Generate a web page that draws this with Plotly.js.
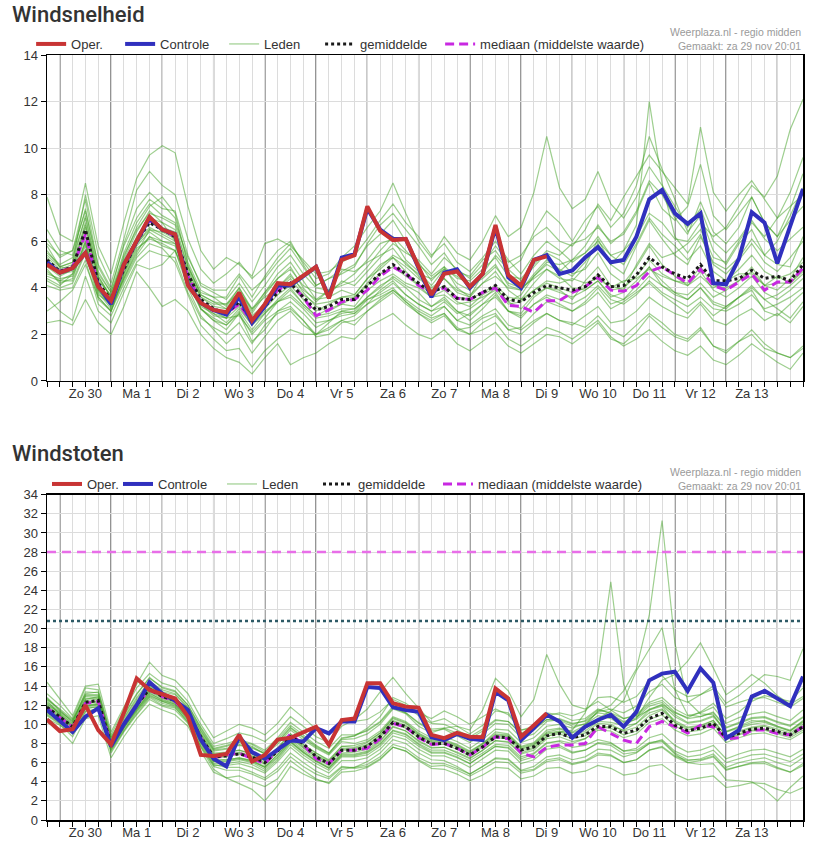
<!DOCTYPE html>
<html><head><meta charset="utf-8">
<script src="https://cdn.plot.ly/plotly-3.0.1.min.js"></script>
<style>html,body{margin:0;padding:0;background:#fff}#chart{width:815px;height:844px}</style>
</head><body><div id="chart"></div>
<script>
const dayLabels = ['Zo 30','Ma 1','Di 2','Wo 3','Do 4','Vr 5','Za 6','Zo 7','Ma 8','Di 9','Wo 10','Do 11','Vr 12','Za 13'];

// ---- Windsnelheid (m/s) ----
const speedOper = [5.0,4.65,4.85,5.5,4.05,3.45,5.0,6.0,7.05,6.5, 6.3,4.1,3.35,3.05,2.95,3.8,2.6,3.3,4.2,4.15, 4.5,4.9,3.55,5.2,5.4,7.5,6.45,6.05,6.1,4.9, 3.7,4.6,4.7,4.05,4.6,6.7,4.55,4.1,5.2,5.35];
const speedControle = [5.1,4.65,4.85,5.5,4.1,3.3,5.0,6.0,7.0,6.5, 6.3,4.15,3.35,3.05,2.85,3.6,2.5,3.2,4.1,4.1, 4.5,4.9,3.6,5.3,5.45,7.4,6.5,6.1,6.1,4.8, 3.6,4.65,4.8,4.0,4.6,6.6,4.45,4.0,5.2,5.4, 4.6,4.75,5.3,5.75,5.1,5.2,6.2,7.8,8.2,7.2, 6.75,7.2,4.2,4.15,5.25,7.25,6.8,5.05,6.6,8.25];
const speedMean = [5.2,4.7,4.9,6.5,4.2,3.5,4.8,6.0,6.8,6.5, 6.2,4.6,3.5,3.1,2.9,3.4,2.6,3.2,3.8,4.2, 3.6,3.05,3.2,3.5,3.5,4.1,4.6,5.0,4.6,4.2, 3.8,4.05,3.55,3.5,3.8,4.1,3.5,3.4,3.8,4.1, 4.0,3.9,4.05,4.55,4.05,4.1,4.55,5.3,4.9,4.6, 4.4,5.0,4.3,4.3,4.4,4.75,4.4,4.5,4.3,5.0];
const speedMedian = [5.1,4.7,4.9,6.3,4.1,3.4,4.9,6.0,6.9,6.5, 6.2,4.5,3.4,3.0,2.9,3.3,2.5,3.2,3.9,4.2, 3.6,2.8,3.05,3.4,3.5,3.9,4.5,4.9,4.6,4.1, 3.8,4.0,3.55,3.5,3.8,4.0,3.25,3.2,2.95,3.45, 3.45,3.8,4.05,4.45,3.9,3.85,4.1,4.7,4.9,4.55, 4.2,4.8,4.1,3.9,4.25,4.6,3.9,4.25,4.25,4.85];
const speedMembers = [
[6.1,5.3,5.6,7.8,4.9,3.9,5.9,7.4,8.1,7.6, 7.0,5.1,3.9,3.6,3.2,4.0,3.1,3.8,4.6,5.1, 4.3,3.5,3.9,4.2,4.6,5.2,5.9,6.1,5.2,4.7, 4.1,4.8,4.2,3.9,4.5,5.0,4.1,3.9,4.6,5.2, 4.8,4.5,5.1,5.9,5.0,4.6,5.8,6.9,6.1,5.4, 5.0,6.2,5.1,4.8,5.3,6.1,5.4,5.0,4.9,6.2],
[4.1,3.9,4.0,5.2,3.3,2.8,4.0,5.1,5.6,5.4, 5.3,3.8,2.7,2.3,2.0,2.5,1.6,2.4,2.9,3.1, 2.6,2.0,2.3,2.6,2.4,3.0,3.4,3.8,3.3,2.9, 2.6,2.9,2.2,2.3,2.7,2.9,2.2,2.0,2.5,2.9, 2.6,2.4,2.8,3.2,2.5,2.6,3.0,3.6,3.2,2.9, 2.7,3.3,2.6,2.4,2.8,3.1,2.6,2.9,2.5,3.2],
[5.5,5.0,5.3,7.0,4.5,3.6,5.3,6.6,7.5,7.9, 7.2,5.0,3.7,3.4,3.1,3.9,2.9,3.7,4.4,4.9, 4.0,3.4,3.9,4.7,5.0,5.8,6.3,6.9,6.0,5.1, 4.3,4.9,4.0,3.6,4.6,5.4,4.8,5.2,6.4,7.3, 6.8,6.0,6.9,7.5,6.6,7.2,8.4,10.5,9.1,7.8, 6.4,7.1,5.6,5.0,5.9,6.5,5.4,6.0,7.1,8.3],
[3.6,3.0,2.6,4.5,3.0,2.5,3.8,5.0,4.8,5.0, 5.6,4.2,3.1,2.6,2.4,2.9,2.0,2.6,3.0,3.4, 2.9,2.3,2.6,2.9,3.0,3.6,4.0,4.5,4.1,3.8, 3.2,3.6,3.0,2.6,3.1,3.7,3.0,2.9,3.6,4.0, 3.9,3.5,4.3,4.9,4.1,3.9,5.0,5.9,5.3,5.5, 5.9,6.5,5.3,5.1,6.0,6.8,6.2,7.0,8.1,9.6],
[5.8,4.9,5.1,8.0,5.4,4.2,6.1,8.2,9.0,8.4, 8.0,6.1,4.8,4.2,4.6,5.1,4.4,4.9,5.6,6.0, 5.0,4.1,4.4,4.6,4.9,5.9,6.7,7.2,6.5,5.8, 5.0,5.5,4.7,4.5,5.2,5.6,4.8,4.3,4.9,5.5, 5.2,4.6,4.8,5.5,4.6,4.2,4.9,5.8,5.0,4.5, 4.1,4.7,3.9,3.6,4.0,4.5,3.8,3.5,3.9,4.4],
[4.6,4.4,4.5,5.8,3.8,3.1,4.3,5.4,6.2,5.8, 5.6,4.0,2.8,2.2,1.6,2.1,1.2,1.9,2.6,3.0, 2.4,2.0,2.2,2.6,2.8,3.3,3.9,4.3,3.7,3.3, 3.0,3.4,2.9,3.1,3.5,4.0,3.4,3.7,4.5,5.0, 4.7,5.2,5.8,6.7,5.9,6.4,7.3,8.6,8.0,7.0, 6.3,7.7,6.4,5.9,6.6,7.9,6.8,6.2,7.4,8.9],
[7.9,6.3,6.0,8.5,5.8,4.6,6.8,8.7,9.7,10.1, 9.8,7.5,5.6,4.8,5.3,5.0,4.5,5.9,6.1,5.8, 5.2,4.6,4.7,5.1,5.4,6.1,6.9,7.6,6.8,6.2, 5.4,5.9,5.1,4.7,5.3,6.0,5.2,4.6,5.4,6.0, 5.6,5.1,5.5,6.2,5.4,5.0,5.9,7.0,6.3,5.8, 5.2,5.8,4.7,4.3,4.8,5.4,4.7,4.4,4.6,5.1],
[2.5,2.6,2.4,3.5,2.5,2.0,3.2,4.7,4.0,3.2, 3.5,3.0,2.0,1.4,1.0,0.8,0.3,1.0,1.6,0.7, 1.0,1.2,1.6,1.9,1.8,2.3,2.6,2.9,2.4,2.0, 1.8,2.2,1.6,1.3,1.7,2.1,1.5,1.2,1.6,2.0, 1.9,1.6,2.0,2.5,1.8,1.6,2.1,2.8,2.3,1.9, 1.7,2.2,1.5,1.3,1.7,2.0,1.4,1.2,1.0,1.5],
[5.0,4.6,4.7,6.2,4.0,3.4,5.0,6.2,7.0,6.8, 6.0,4.5,3.3,3.0,2.7,3.6,2.6,3.4,4.0,4.6, 3.8,3.2,3.0,3.3,3.6,4.2,4.9,5.4,5.1,4.5, 3.9,4.4,3.8,3.6,4.2,4.7,3.9,3.5,4.2,4.8, 4.4,4.3,4.9,6.1,5.0,5.6,6.7,12.0,8.5,6.2, 5.5,6.3,5.0,4.6,5.2,5.9,5.1,4.7,5.3,6.0],
[4.8,4.2,4.4,6.0,3.6,3.0,4.6,5.8,6.4,6.0, 5.8,4.3,3.2,2.9,2.5,3.1,2.4,2.9,3.5,4.0, 3.3,2.8,3.1,3.3,3.2,3.9,4.3,4.6,4.2,4.0, 3.6,3.7,3.3,3.4,3.6,3.9,3.3,3.4,3.9,4.3, 4.2,4.4,4.2,4.4,4.0,4.3,4.4,4.8,4.5,4.3, 4.1,4.5,4.0,4.3,4.6,4.6,4.1,4.5,4.2,4.7],
[5.3,4.8,5.0,6.8,4.3,3.7,4.9,6.1,7.0,6.6, 6.4,4.7,3.6,3.3,3.3,3.8,3.1,3.6,4.0,4.5, 3.9,3.5,3.6,3.9,3.7,4.4,4.8,5.3,4.9,4.4, 4.0,4.4,3.9,3.7,4.2,4.5,4.0,3.9,4.5,5.1, 5.0,5.2,5.5,6.0,5.4,5.6,6.2,7.2,6.8,6.1, 6.0,6.8,6.2,6.6,7.5,8.4,7.9,8.8,10.8,12.1],
[4.3,4.0,4.2,5.5,3.5,3.0,4.5,5.7,6.1,5.9, 5.6,4.4,3.3,2.8,2.7,2.8,2.1,2.7,3.4,3.6, 3.1,2.5,2.6,2.8,2.9,3.5,3.8,4.2,3.7,3.3, 3.0,3.2,2.6,2.4,2.8,3.1,2.4,2.2,2.6,2.9, 2.6,2.5,2.3,2.8,2.2,1.9,2.4,2.9,2.5,2.0, 1.8,2.3,1.5,1.2,1.7,2.2,1.6,1.2,1.0,1.4],
[5.9,5.4,5.6,7.3,5.0,4.0,5.8,7.0,7.8,7.4, 7.3,5.4,4.1,3.8,3.5,4.2,3.4,4.1,4.9,5.4, 4.6,4.0,3.9,4.1,4.3,4.9,5.6,6.2,5.6,5.0, 4.5,4.9,4.4,4.3,4.8,5.3,4.5,4.4,5.0,5.6, 5.4,5.9,6.1,6.6,6.0,6.3,7.2,8.5,7.4,6.9, 7.5,9.3,7.1,6.5,7.2,7.9,6.8,6.2,6.9,7.5],
[4.4,4.1,4.6,5.9,3.9,3.2,4.4,5.5,6.5,6.4, 6.3,4.6,3.1,2.6,2.2,2.9,1.7,2.2,3.0,3.2, 2.6,1.9,2.0,2.5,2.6,3.0,3.5,3.9,3.5,3.1, 2.8,3.2,2.6,2.9,3.3,3.8,3.0,2.7,3.3,3.6, 3.3,3.0,3.3,3.8,3.1,3.4,3.8,4.2,3.7,3.3, 2.9,3.4,2.8,3.2,3.6,3.9,3.0,2.8,3.3,3.8],
[6.5,5.6,5.4,7.4,4.7,3.8,5.5,6.8,7.6,7.1, 6.8,5.3,4.2,3.9,3.9,4.6,3.9,4.4,5.1,5.7, 4.9,4.1,4.4,4.8,4.7,5.1,5.4,5.7,5.0,4.6, 4.4,4.8,4.5,4.1,4.4,4.9,4.2,4.0,4.4,4.8, 4.5,4.0,3.9,4.3,3.6,3.8,4.3,4.9,4.1,3.8, 3.7,4.2,3.6,3.9,4.3,4.9,4.1,3.9,4.4,5.3],
[3.0,3.4,3.9,5.0,3.6,3.0,4.2,5.3,5.9,5.7, 5.1,3.7,2.4,1.8,1.3,1.4,0.6,1.3,1.8,2.2, 2.0,2.0,2.5,3.0,3.1,3.5,3.7,4.0,3.4,2.9, 2.5,2.8,2.2,2.0,2.5,2.8,2.2,2.3,2.9,3.4, 3.2,3.0,3.4,4.0,3.3,3.5,4.1,4.9,4.3,3.8, 3.5,4.0,3.3,3.1,3.6,4.1,3.5,3.1,2.7,3.4],
[5.6,4.9,4.8,6.7,4.4,3.6,5.4,6.5,7.2,7.0, 6.7,4.9,3.7,3.4,3.3,4.0,3.0,3.8,4.4,4.8, 4.1,3.8,3.7,4.3,4.1,4.7,5.3,5.9,5.5,5.2, 4.6,5.3,4.8,4.4,5.0,5.8,5.1,5.4,6.2,6.6, 6.0,5.8,6.5,7.6,6.9,7.9,8.8,9.7,9.0,8.3, 7.6,10.9,8.1,7.3,8.0,8.6,7.8,7.0,7.5,8.0],
[4.9,4.5,4.8,6.3,4.2,3.3,4.7,6.0,6.9,6.4, 6.1,4.6,3.4,3.1,2.9,3.3,2.5,3.1,3.7,4.1, 3.5,3.0,3.3,3.6,3.7,4.4,5.0,5.3,4.7,4.1, 3.6,3.9,3.4,3.2,3.7,4.0,3.4,3.1,3.7,4.0, 3.8,3.6,3.9,4.3,3.7,3.5,3.9,4.5,4.1,3.7, 3.5,4.0,3.4,3.2,3.6,4.0,3.5,3.7,4.1,4.6],
[4.7,4.3,4.3,5.6,3.7,3.3,4.6,5.9,6.5,6.2, 5.9,4.4,3.3,2.9,2.7,3.2,2.4,3.0,3.4,3.7, 3.2,2.7,2.8,3.0,2.9,3.3,3.6,3.9,3.4,3.0, 2.7,2.9,2.3,2.0,2.2,2.5,1.8,1.5,1.9,2.3, 2.1,1.8,2.2,2.6,1.9,1.5,1.8,2.2,1.7,1.3, 1.1,1.5,0.9,0.7,1.1,1.6,1.2,0.8,0.5,1.2],
[5.4,4.9,5.1,7.1,4.6,3.8,5.2,6.4,7.3,6.8, 6.5,4.9,3.8,3.6,3.6,4.5,3.6,4.5,5.3,5.9, 5.1,4.4,4.6,5.3,5.8,6.6,7.3,8.5,7.2,6.0, 5.3,6.2,5.5,5.2,6.0,7.1,6.2,6.6,8.1,10.5, 8.3,7.4,7.8,9.0,7.6,7.0,7.9,9.2,8.4,7.5, 6.6,7.4,6.0,5.5,6.1,6.9,6.1,5.6,6.1,6.6],
[4.5,4.3,4.6,6.0,3.9,3.2,4.4,5.6,6.2,6.0, 5.9,4.2,3.1,2.7,2.4,3.0,2.2,2.9,3.4,3.9, 3.3,2.8,2.9,3.1,3.1,3.6,4.1,4.4,4.0,3.5, 3.2,3.5,3.0,2.8,3.3,3.6,3.0,2.8,3.3,3.7, 3.5,3.3,3.6,4.1,3.5,3.3,3.7,4.3,3.8,3.5, 3.2,3.6,3.1,3.0,3.3,3.7,3.1,3.3,3.6,4.0],
[5.2,4.7,4.9,6.6,4.5,3.6,4.8,5.9,6.6,6.3, 6.0,4.8,3.6,3.2,3.1,3.6,2.8,3.3,3.9,4.4, 3.7,3.3,3.4,3.6,3.6,4.1,4.6,4.9,4.5,4.1, 3.8,4.1,3.6,3.5,3.8,4.1,3.6,3.5,3.9,4.2, 4.0,3.8,4.0,4.6,3.9,4.0,4.5,5.2,4.6,4.3, 4.2,4.9,4.1,4.0,4.3,4.7,4.1,4.2,4.2,4.8]
];

// ---- Windstoten (m/s) ----
const gustOper = [10.5,9.3,9.5,12.0,9.4,7.9,11.2,14.8,13.6,13.2, 12.7,10.8,6.8,6.7,6.9,8.9,6.1,6.8,8.4,8.6, 9.2,9.75,7.85,10.45,10.6,14.3,14.3,12.2,11.85,11.75, 8.9,8.55,9.1,8.7,8.65,13.75,12.7,8.7,9.9,11.15];
const gustControle = [11.5,10.4,9.2,10.8,11.7,7.7,10.0,12.0,14.4,13.2, 12.5,11.5,8.4,6.4,5.6,8.7,7.1,6.4,7.4,8.3, 8.2,9.6,9.05,10.3,10.3,13.9,13.8,11.8,11.5,11.3, 8.65,8.35,9.0,8.5,8.35,13.4,12.5,8.35,9.6,11.0, 10.3,8.6,9.75,10.45,11.0,9.75,11.3,14.6,15.3,15.5, 13.5,15.85,14.35,8.55,9.4,12.9,13.5,12.7,11.9,15.0];
const gustMean = [11.8,10.8,9.75,12.3,12.5,7.85,10.0,12.0,13.7,12.9, 12.5,11.1,8.7,6.6,6.7,6.9,6.6,6.0,7.2,8.7, 8.0,6.6,5.9,7.3,7.3,7.7,8.7,10.2,9.75,8.7, 7.95,8.0,7.5,6.8,7.65,8.7,8.6,7.3,7.65,8.8, 9.05,8.6,8.9,9.8,9.75,9.05,9.4,10.6,11.15,9.9, 9.35,9.6,10.1,8.6,9.05,9.5,9.6,9.25,8.9,9.75];
const gustMedian = [11.7,10.7,9.7,12.2,12.4,7.9,10.1,12.1,13.6,12.9, 12.4,11.0,8.6,6.5,6.8,7.0,6.4,5.9,7.3,9.0, 7.9,6.4,5.9,7.3,7.3,7.5,8.5,10.1,9.7,8.6, 7.9,8.0,7.5,6.8,7.6,8.7,8.5,7.0,6.6,7.6, 7.85,7.85,8.0,9.75,9.05,8.35,8.0,9.75,10.3,9.75, 9.1,9.9,9.75,8.5,8.6,9.4,9.4,9.05,8.9,9.75];
const gustThresholds = [28, 20.8];
const gustMembers = [
[12.8,11.5,10.2,13.4,13.3,8.6,11.0,13.2,14.8,13.9, 13.5,12.0,9.6,7.5,7.8,8.2,7.9,7.1,8.4,9.9, 8.9,7.8,7.0,8.6,8.8,9.4,10.3,11.9,11.2,10.1, 9.3,9.5,8.8,8.1,9.0,10.1,10.0,8.6,9.0,10.3, 10.5,10.0,10.4,11.5,11.2,10.6,11.0,12.3,12.8,11.6, 10.9,11.2,11.8,10.1,10.7,11.1,11.3,10.8,10.4,11.5],
[10.2,9.4,8.0,10.6,10.9,6.5,8.7,10.6,12.1,11.5, 11.0,9.8,7.2,5.0,4.4,4.6,4.0,3.5,4.3,6.2, 5.2,4.3,3.8,5.0,5.1,5.5,6.3,7.6,7.2,6.3, 5.6,5.7,5.2,4.6,5.3,6.1,6.0,4.9,5.2,6.1, 6.3,5.8,6.1,6.8,6.7,6.0,6.3,7.3,7.7,6.7, 6.2,6.4,6.9,5.5,6.0,6.3,6.5,6.0,5.6,6.5],
[12.1,11.2,10.1,12.9,12.8,8.1,10.4,12.4,14.1,13.2, 12.8,11.5,9.0,7.0,7.1,7.3,6.9,6.2,7.6,9.0, 7.9,7.0,6.2,7.7,7.6,8.1,9.1,10.7,10.2,9.1, 8.4,8.4,7.9,7.2,8.0,9.2,9.0,7.7,8.1,9.4, 9.6,9.2,9.9,11.4,12.0,13.5,15.8,21.4,31.3,18.5, 12.4,11.1,11.0,9.2,9.8,10.4,10.3,9.8,9.3,10.4],
[11.4,10.4,9.4,11.9,12.1,7.6,9.7,11.6,13.3,12.5, 12.1,10.7,8.3,6.1,6.2,6.4,6.1,5.5,6.8,8.2, 7.1,6.2,5.5,6.9,6.9,7.2,8.2,9.7,9.3,8.2, 7.5,7.6,7.0,6.4,7.3,8.3,8.2,7.0,7.5,8.7, 9.2,9.4,11.2,15.3,24.9,14.2,10.8,11.5,11.9,10.2, 9.4,9.7,10.2,8.4,8.9,9.3,9.4,9.0,8.6,9.4],
[13.2,12.0,10.6,13.8,13.6,8.9,11.5,13.8,15.3,14.3, 13.9,12.4,10.0,8.0,8.5,9.1,8.8,8.2,9.3,10.8, 9.8,8.7,8.1,9.8,10.5,11.6,13.4,14.9,13.2,11.7, 10.2,10.6,9.8,9.0,9.9,11.4,11.2,9.4,9.8,11.2, 11.0,10.4,10.6,11.6,11.1,10.3,10.7,11.9,12.3,11.0, 10.2,10.4,10.9,9.3,9.7,10.2,10.4,9.8,9.4,10.3],
[11.0,10.1,9.1,11.7,11.8,7.2,9.3,11.3,12.9,12.2, 11.8,10.2,7.6,5.3,4.4,3.8,3.2,2.0,3.6,5.6, 4.8,4.2,3.9,5.3,5.5,6.1,7.0,8.4,8.0,7.0, 6.3,6.2,5.6,4.8,5.6,6.4,6.3,5.1,5.3,6.3, 6.5,5.9,6.2,7.0,6.8,6.0,6.3,7.3,7.6,6.6, 6.0,6.2,6.6,5.2,5.6,6.0,6.1,5.5,5.0,5.9],
[12.5,11.0,9.8,12.6,12.9,8.3,10.6,12.6,14.3,13.4, 13.1,11.7,9.3,7.3,7.5,7.8,7.6,6.9,7.9,9.4, 8.4,7.5,6.8,8.2,8.0,8.4,9.3,10.8,10.3,9.3, 8.6,8.7,8.2,7.5,8.4,9.5,9.4,8.1,8.6,9.8, 10.0,9.6,10.1,11.3,11.6,11.2,11.9,13.4,14.2,12.8, 12.3,13.1,14.0,12.2,13.0,14.1,15.2,15.0,14.6,17.9],
[11.2,10.6,9.5,11.8,12.0,7.5,9.6,11.4,13.0,12.4, 12.0,10.5,8.0,5.8,5.5,5.5,5.0,4.4,5.4,7.0, 6.0,5.1,4.5,5.6,5.4,5.6,6.4,7.6,7.2,6.2, 5.4,5.3,4.8,4.1,4.7,5.5,5.4,4.3,4.6,5.4, 5.5,4.9,5.1,5.7,5.4,4.7,4.9,5.6,5.8,4.8, 4.2,4.4,4.6,3.4,3.6,3.9,3.8,3.2,2.8,3.4],
[12.3,11.3,10.3,13.0,13.0,8.2,10.3,12.2,14.0,13.1, 12.7,11.4,9.1,7.2,7.4,7.9,7.5,7.0,8.1,9.6, 8.6,7.6,6.9,8.4,8.5,9.0,10.0,11.6,11.1,9.8, 9.1,9.6,9.8,9.4,11.5,14.8,13.5,10.8,12.6,17.3, 14.2,12.0,11.6,12.4,11.5,10.6,10.9,12.1,12.5,11.3, 10.6,10.8,11.3,9.7,10.2,10.7,10.8,10.3,9.9,10.8],
[11.7,10.8,9.7,12.2,12.5,7.9,10.0,12.0,13.6,12.9, 12.4,11.0,8.6,6.5,6.6,6.9,6.5,5.8,7.1,8.6, 7.5,6.6,5.9,7.3,7.3,7.6,8.6,10.1,9.6,8.6, 7.9,7.9,7.4,6.7,7.6,8.6,8.5,7.2,7.6,8.8, 9.0,8.5,8.8,9.7,9.6,8.9,9.3,10.5,11.0,9.8, 9.2,9.4,10.0,8.5,9.0,9.4,9.5,9.1,8.8,9.6],
[11.9,10.9,9.9,12.5,12.6,7.8,10.1,12.1,13.8,13.0, 12.6,11.2,8.8,6.7,6.8,7.1,6.7,6.0,7.3,8.8, 7.7,6.8,6.1,7.5,7.5,7.9,8.9,10.4,9.9,8.9, 8.2,8.2,7.7,7.0,7.9,8.9,8.8,7.5,7.9,9.1, 9.3,8.9,9.3,10.3,10.2,9.9,10.6,12.8,14.6,15.2, 16.6,18.5,15.9,13.1,14.0,15.2,14.3,13.0,12.1,12.9],
[10.6,9.9,9.0,11.4,11.6,7.3,9.4,11.1,12.8,12.0, 11.7,10.3,7.8,5.7,5.7,5.9,5.5,4.9,6.1,7.6, 6.5,5.6,4.9,6.2,6.2,6.5,7.4,8.8,8.4,7.4, 6.7,6.7,6.2,5.5,6.4,7.3,7.2,5.9,6.3,7.4, 7.6,7.0,7.3,8.1,8.0,7.2,7.5,8.6,9.0,7.8, 7.1,7.3,7.8,6.4,6.9,7.3,7.4,7.0,6.6,7.4],
[12.0,11.0,9.6,12.4,12.3,7.7,9.8,11.9,13.5,12.8, 12.3,10.9,8.5,6.4,6.3,6.5,6.2,5.5,6.6,8.2, 7.1,6.2,5.4,6.7,6.7,7.0,7.9,9.3,8.9,7.9, 7.1,7.1,6.6,5.9,6.8,7.7,7.5,6.2,6.6,7.7, 7.8,7.1,7.3,8.0,7.8,6.9,7.1,8.0,8.2,6.9, 6.0,5.8,5.9,4.2,4.1,4.0,3.2,2.0,3.4,4.6],
[14.4,12.6,10.9,14.0,14.2,9.2,11.8,14.2,16.5,15.1, 14.6,13.2,10.7,8.6,9.3,10.0,9.6,8.9,10.1,11.8, 10.7,9.5,8.9,10.5,10.3,10.5,11.3,12.6,12.0,10.9, 10.1,10.0,9.4,8.7,9.5,10.5,10.3,9.0,9.4,10.5, 10.6,10.1,10.3,11.2,11.0,10.2,10.5,11.6,12.0,10.8, 10.1,10.3,10.8,9.2,9.6,10.0,10.2,9.7,9.3,10.2],
[11.5,10.5,9.3,12.0,12.2,7.6,9.9,11.8,13.4,12.7, 12.2,10.8,8.4,6.2,6.3,6.5,6.2,5.6,6.8,8.4, 7.3,6.4,5.7,7.0,7.1,7.4,8.3,9.8,9.3,8.3, 7.6,7.6,7.1,6.5,7.3,8.3,8.1,6.9,7.3,8.5, 8.7,8.2,8.5,9.4,9.3,8.6,9.0,10.2,10.6,9.4, 8.8,9.0,9.6,8.1,8.6,9.0,9.1,8.7,8.4,9.2],
[11.1,10.2,9.2,11.6,11.9,7.4,9.6,11.5,13.1,12.4, 11.9,10.5,8.1,5.9,5.9,6.1,5.8,5.1,6.3,7.9, 6.8,5.9,5.2,6.6,6.6,6.8,7.7,9.1,8.7,7.7, 7.0,7.0,6.5,5.9,6.8,7.7,7.6,6.4,6.9,8.0, 8.3,8.0,8.5,9.6,9.8,9.4,10.1,11.5,12.1,11.2, 10.7,11.3,12.2,10.6,11.3,12.4,13.0,12.7,12.4,13.8],
[12.7,11.4,10.4,13.1,13.1,8.5,10.7,12.8,14.5,13.6, 13.2,11.8,9.4,7.4,7.7,8.1,7.7,6.9,8.2,9.7, 8.7,7.7,7.0,8.5,8.8,9.6,10.8,12.8,12.2,11.2, 10.6,11.4,10.8,10.0,10.8,11.6,11.0,9.4,9.6,10.5, 10.4,9.8,10.0,10.9,10.6,9.8,10.1,11.2,11.6,10.4, 9.7,9.9,10.4,8.8,9.2,9.6,9.8,9.3,8.9,9.8],
[11.6,10.7,9.8,12.2,12.4,7.9,10.1,12.1,13.7,12.8, 12.5,11.1,8.7,6.6,6.7,7.0,6.6,5.9,7.2,8.7, 7.6,6.7,6.0,7.4,7.4,7.8,8.8,10.3,9.8,8.8, 8.1,8.1,7.6,6.9,7.7,8.8,8.7,7.4,7.8,9.0, 9.2,8.8,9.1,10.1,10.0,9.3,9.7,10.9,11.5,10.2, 9.6,9.8,10.4,8.8,9.3,9.7,9.9,9.5,9.1,10.0],
[10.9,10.0,8.7,11.3,11.6,7.0,9.2,11.0,12.6,11.9, 11.5,10.1,7.7,5.6,5.2,5.2,4.8,4.2,5.1,6.6, 5.6,4.8,4.3,5.5,5.5,5.8,6.6,7.9,7.5,6.5, 5.9,5.9,5.4,4.8,5.6,6.5,6.4,5.2,5.6,6.6, 6.8,6.3,6.6,7.4,7.3,6.6,7.0,8.0,8.4,7.2, 6.6,6.8,7.3,6.0,6.4,6.8,6.9,6.5,6.1,6.9],
[12.2,11.1,10.0,12.7,12.7,8.0,10.2,12.3,13.9,13.0, 12.6,11.3,8.9,6.9,7.0,7.3,6.9,6.2,7.5,9.0, 7.9,7.0,6.3,7.7,7.8,8.2,9.1,10.6,10.1,9.0, 8.3,8.3,7.8,7.1,8.0,9.0,8.9,7.6,8.0,9.2, 9.5,9.1,9.6,10.6,11.4,12.5,15.6,17.8,20.1,13.6, 11.0,10.8,11.2,9.6,10.1,10.6,10.7,10.2,9.8,10.7],
[11.3,10.3,9.4,11.9,12.1,7.6,9.8,11.6,13.2,12.6, 12.1,10.7,8.2,6.1,6.1,6.3,6.0,5.3,6.5,8.1, 7.0,6.1,5.4,6.8,6.8,7.1,8.0,9.4,9.0,8.0, 7.3,7.3,6.8,6.2,7.0,7.9,7.8,6.6,7.0,8.1, 8.2,7.6,7.8,8.4,8.1,7.2,7.3,8.1,8.3,7.0, 6.3,6.3,6.7,5.3,5.6,5.9,5.9,5.4,5.0,5.7],
[12.6,11.6,10.5,13.2,13.4,8.7,10.9,13.1,14.9,13.8, 13.4,12.0,9.7,7.7,8.0,8.4,8.0,7.3,8.6,10.2, 9.2,8.2,7.5,8.9,8.9,9.3,10.2,11.7,11.2,10.2, 9.5,9.6,9.1,8.5,9.3,10.4,10.3,9.1,9.6,10.9, 11.2,10.9,11.4,12.8,12.9,12.3,12.9,14.5,15.1,13.6, 12.9,13.1,13.7,11.8,12.3,12.7,12.8,12.3,11.8,12.7]
];

// ---- time axis (6-hourly, from za 29 nov 18:00) ----
function fmt(d){
  const p = n => String(n).padStart(2,'0');
  return d.getUTCFullYear()+'-'+p(d.getUTCMonth()+1)+'-'+p(d.getUTCDate())+' '+p(d.getUTCHours())+':00';
}
const STEP = 6*3600*1000;
const startMs = Date.UTC(2025,10,29,18);
const times = speedControle.map((_,i)=>fmt(new Date(startMs + i*STEP)));
const noonTicks = dayLabels.map((_,k)=>fmt(new Date(Date.UTC(2025,10,30+k,12))));
const dayStarts = [];
for (let k=0;k<15;k++) dayStarts.push(fmt(new Date(Date.UTC(2025,10,30+k,0))));

const FONT = 'Liberation Sans, Arial, sans-serif';
const C_OPER = 'rgb(200,52,52)', C_CTRL = 'rgb(48,48,190)', C_MEM = 'rgba(62,160,32,0.5)';
const C_MEAN = '#1a1a1a', C_MED = 'rgb(200,40,225)';

function block(xa, ya, lg, operW, oper, ctrl, mean, median, members){
  const tr = [];
  members.forEach((m,k)=>tr.push({x:times, y:m, xaxis:xa, yaxis:ya, type:'scatter', mode:'lines',
    line:{color:C_MEM, width:1.2}, name:'Leden', legendgroup:lg+'leden', showlegend:k===0,
    legend:lg, legendrank:3, legendwidth:51, hoverinfo:'skip'}));
  tr.push({x:times, y:median, xaxis:xa, yaxis:ya, mode:'lines', name:'mediaan (middelste waarde)',
    line:{color:C_MED, width:3, dash:'9px,5px'}, legend:lg, legendrank:5});
  tr.push({x:times, y:mean, xaxis:xa, yaxis:ya, mode:'lines', name:'gemiddelde',
    line:{color:C_MEAN, width:3, dash:'dot'}, legend:lg, legendrank:4, legendwidth:75});
  tr.push({x:times, y:ctrl, xaxis:xa, yaxis:ya, mode:'lines', name:'Controle',
    line:{color:C_CTRL, width:4}, legend:lg, legendrank:2, legendwidth:59});
  tr.push({x:times.slice(0,oper.length), y:oper, xaxis:xa, yaxis:ya, mode:'lines', name:'Oper.',
    line:{color:C_OPER, width:4}, legend:lg, legendrank:1, legendwidth:operW});
  return tr;
}

const data = [
  ...block('x','y','legend', 44, speedOper, speedControle, speedMean, speedMedian, speedMembers),
  ...block('x2','y2','legend2', 26, gustOper, gustControle, gustMean, gustMedian, gustMembers),
  {x:[times[0], times[times.length-1]], y:[gustThresholds[0], gustThresholds[0]], xaxis:'x2', yaxis:'y2',
   mode:'lines', line:{color:'rgb(232,110,232)', width:2.5, dash:'9px,6px'}, showlegend:false, hoverinfo:'skip'},
  {x:[times[0], times[times.length-1]], y:[gustThresholds[1], gustThresholds[1]], xaxis:'x2', yaxis:'y2',
   mode:'lines', line:{color:'#2d5a66', width:2.5, dash:'3px,3px'}, showlegend:false, hoverinfo:'skip'}
];

const xRange = [times[0], times[times.length-1]];
function xax(anchor){
  return {type:'date', range:xRange, anchor:anchor, tickmode:'array', tickvals:noonTicks, ticktext:dayLabels,
    ticks:'', showgrid:false, zeroline:false, showline:true, linecolor:'#000', linewidth:1.5, mirror:true,
    tickfont:{family:FONT, size:13, color:'#333'},
    minor:{dtick:STEP, tick0:times[0], ticks:'outside', ticklen:5, tickcolor:'#000', tickwidth:1,
      showgrid:true, gridcolor:'#dcdcdc', gridwidth:1}};
}
function yax(anchor, domain, max){
  return {range:[0,max], dtick:2, domain:domain, anchor:anchor, ticks:'outside', ticklen:5, tickcolor:'#000',
    showgrid:true, gridcolor:'#dcdcdc', gridwidth:1, zeroline:false, showline:true, linecolor:'#000',
    linewidth:1.5, mirror:true, tickfont:{family:FONT, size:13, color:'#333'}};
}

const shapes = [];
dayStarts.forEach(d=>{
  shapes.push({type:'line', xref:'x', yref:'y domain', x0:d, x1:d, y0:0, y1:1, layer:'below', line:{color:'#333', width:1.2}});
  shapes.push({type:'line', xref:'x2', yref:'y2 domain', x0:d, x1:d, y0:0, y1:1, layer:'below', line:{color:'#333', width:1.2}});
});

const ann = (text, x, y, xanchor, font, align)=>({text, x, y, xref:'paper', yref:'paper', xanchor, yanchor:'middle', showarrow:false, font, align:align||'left'});
const titleFont = {family:'Roboto, sans-serif', size:22, color:'#333', weight:500};
const smallFont = {family:FONT, size:10.5, color:'#9a9a9a'};
const stamp = 'Weerplaza.nl - regio midden<br>Gemaakt: za 29 nov 20:01';

const legendBase = {orientation:'h', xanchor:'left', yanchor:'middle',
  bgcolor:'rgba(0,0,0,0)', font:{family:FONT, size:13, color:'#333'}, traceorder:'normal'};

const layout = {
  width:815, height:844, paper_bgcolor:'#fff', plot_bgcolor:'#fff',
  margin:{l:47, r:12, t:55, b:24},
  xaxis: xax('y'), xaxis2: Object.assign(xax('y2'), {matches:'x'}),
  yaxis: yax('x', [0.5739,1], 14), yaxis2: yax('x2', [0,0.4252], 34),
  shapes: shapes,
  legend: Object.assign({}, legendBase, {x:-0.021, y:1.0144}),
  legend2: Object.assign({}, legendBase, {x:0, y:0.4392}),
  annotations:[
    ann('Windsnelheid', -0.0489, 1.0523, 'left', titleFont),
    ann('Windstoten', -0.0489, 0.4797, 'left', titleFont),
    ann(stamp, 1, 1.0209, 'right', smallFont, 'right'),
    ann(stamp, 1, 0.4458, 'right', smallFont, 'right')
  ],
  showlegend:true, hovermode:false
};

Plotly.newPlot('chart', data, layout, {displayModeBar:false, staticPlot:true});
</script></body></html>
